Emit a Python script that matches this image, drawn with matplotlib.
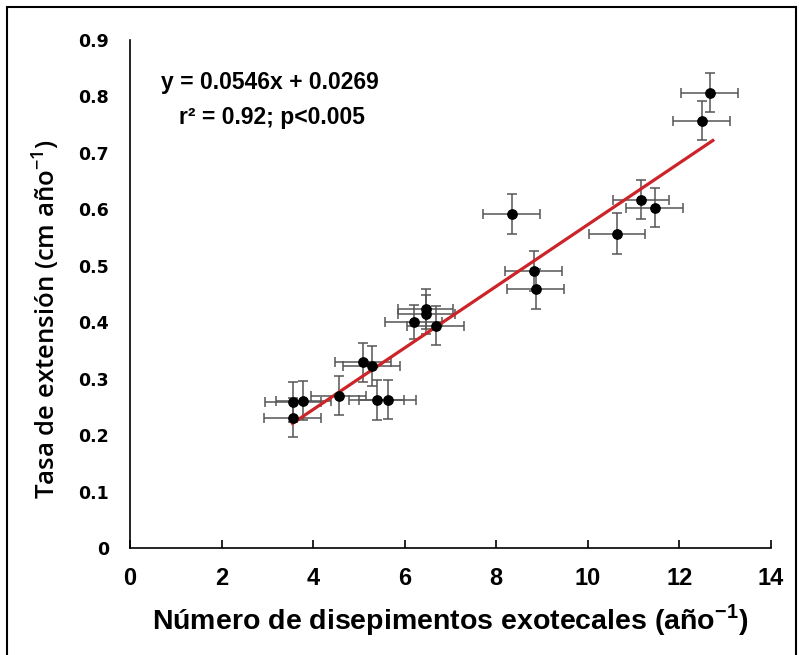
import matplotlib.pyplot as plt
from matplotlib.patches import Rectangle

# disepimentos exotecales (año-1) vs tasa de extensión (cm año-1)
x = [3.55, 3.56, 3.78, 4.56, 5.09, 5.28, 5.39, 5.63, 6.20, 6.46, 6.47, 6.68,
     8.34, 8.82, 8.86, 10.63, 11.16, 11.46, 12.49, 12.66]
y = [0.231, 0.259, 0.261, 0.270, 0.329, 0.322, 0.262, 0.263, 0.401, 0.423, 0.414, 0.394,
     0.592, 0.491, 0.459, 0.557, 0.617, 0.603, 0.757, 0.807]
xerr = [0.62, 0.62, 0.60, 0.60, 0.62, 0.62, 0.60, 0.62, 0.62, 0.60, 0.62, 0.62,
        0.62, 0.62, 0.62, 0.61, 0.62, 0.62, 0.62, 0.62]
yerr = [0.035, 0.035, 0.035, 0.035, 0.035, 0.035, 0.035, 0.035, 0.030, 0.035, 0.035, 0.035,
        0.035, 0.035, 0.035, 0.036, 0.035, 0.035, 0.035, 0.035]

slope = 0.0546
intercept = 0.0269
fit_x = [3.55, 12.73]

fig = plt.figure(figsize=(8.01, 6.55), dpi=100)
ax = fig.add_axes([0.1623, 0.1634, 0.8002, 0.7755])

ax.errorbar(x, y, xerr=xerr, yerr=yerr, fmt="none", ecolor="#555555",
            elinewidth=1.1, capsize=3.5, capthick=1.1, zorder=2)
ax.plot(fit_x, [slope * v + intercept for v in fit_x], color="#cc2428", lw=2.3, zorder=3)
ax.scatter(x, y, s=45, color="black", zorder=4)

ax.set_xlim(0, 14)
ax.set_ylim(0, 0.9)
ax.set_xticks(range(0, 15, 2))
ax.set_yticks([i / 10 for i in range(10)])
ax.set_yticklabels(["0"] + ["0.%d" % i for i in range(1, 10)])
ax.spines["top"].set_visible(False)
ax.spines["right"].set_visible(False)
for s in ["left", "bottom"]:
    ax.spines[s].set_linewidth(1.2)
ax.tick_params(axis="x", direction="in", length=6, width=1.2, pad=14)
ax.tick_params(axis="y", length=0, pad=15)
for lab in ax.get_xticklabels():
    lab.set_fontfamily("Liberation Sans")
    lab.set_fontweight("bold")
    lab.set_fontsize(17)
for lab in ax.get_yticklabels():
    lab.set_fontfamily("DejaVu Sans")
    lab.set_fontweight("bold")
    lab.set_fontsize(12.5)

ax.set_xlabel("Número de disepimentos exotecales (año$^{\\mathregular{-1}}$)", family="Liberation Sans",
              fontweight="bold", fontsize=20.5)
ax.xaxis.set_label_coords(0.5, -0.106)
ax.set_ylabel("Tasa de extensión (cm año$^{\\mathregular{-1}}$)", family="Open Sans",
              fontweight="semibold", fontsize=18.5)
ax.yaxis.set_label_coords(-0.107, 0.45)

ax.text(3.06, 0.825, "y = 0.0546x + 0.0269", family="Liberation Sans", fontweight="bold",
        fontsize=16.5, ha="center", va="center")
ax.text(3.09, 0.763, "r² = 0.92; p<0.005", family="Liberation Sans", fontweight="bold",
        fontsize=16.5, ha="center", va="center")

fig.patches.append(Rectangle((7 / 801, -0.05), 789 / 801, 1.05 - 7 / 655, transform=fig.transFigure,
                             fill=False, edgecolor="black", lw=1.5))

fig.savefig("out.png", dpi=100)
